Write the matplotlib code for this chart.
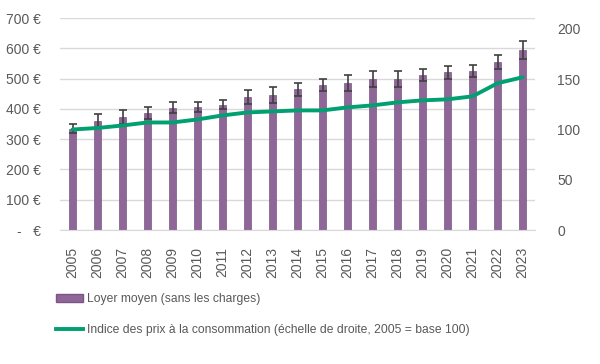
import matplotlib
matplotlib.use("Agg")
import matplotlib.pyplot as plt
from matplotlib.lines import Line2D
from matplotlib.patches import Patch

years = [str(y) for y in range(2005, 2024)]
loyer = [335, 360, 374, 386, 403, 406, 413, 439, 446, 465, 479, 485, 498, 498, 511, 521, 525, 554, 594]
loyer_err = [16, 22, 23, 20, 18, 16, 15, 23, 26, 22, 19, 26, 26, 26, 20, 22, 19, 23, 30]
ipc = [100, 101.5, 104, 107, 107, 110, 114, 117, 118, 119, 119, 122, 124, 127, 129, 130, 133, 146, 152]
left_ticks = [0, 100, 200, 300, 400, 500, 600, 700]
left_labels = ["-   €", "100 €", "200 €", "300 €", "400 €", "500 €", "600 €", "700 €"]
right_ticks = [0, 50, 100, 150, 200]

plt.rcParams['font.family'] = ['Liberation Sans', 'DejaVu Sans']
gray = "#595959"
purple = "#8E6798"
green = "#00A070"

fig = plt.figure(figsize=(6.0, 3.64), dpi=100)
ax = fig.add_axes([60/600, 1-230/364, 475/600, 212/364])
x = list(range(len(years)))
ax.bar(x, loyer, width=0.28, color=purple, edgecolor="#7A5585", linewidth=0.5, zorder=2,
       yerr=loyer_err, error_kw=dict(ecolor="#404040", elinewidth=1.2, capsize=3, capthick=1.2))
ax.set_xlim(-0.5, len(years)-0.5)
ax.set_ylim(0, 700)
ax.set_yticks(left_ticks)
ax.set_yticklabels(left_labels)
ax.yaxis.grid(True, color="#D9D9D9", linewidth=1, zorder=0)
ax.set_axisbelow(True)
ax.set_xticks(x)
ax.set_xticklabels(years, rotation=90)
for s in ["top", "right", "left"]:
    ax.spines[s].set_visible(False)
ax.spines["bottom"].set_color("#D9D9D9")
ax.tick_params(axis="y", length=0, labelcolor=gray, labelsize=10, pad=14)
ax.tick_params(axis="x", length=0, labelcolor=gray, labelsize=10, pad=12)

ax2 = ax.twinx()
ax2.plot(x, ipc, color=green, linewidth=2.8, zorder=3, solid_capstyle="round")
ax2.set_ylim(0, 200*212/201)
ax2.set_yticks(right_ticks)
for s in ["top", "right", "left", "bottom"]:
    ax2.spines[s].set_visible(False)
ax2.tick_params(axis="y", length=0, labelcolor=gray, labelsize=10, pad=16)

handles = [Patch(facecolor=purple, edgecolor="#7A5585", label="Loyer moyen (sans les charges)"),
           Line2D([0], [0], color=green, linewidth=2.8, label="Indice des prix à la consommation (échelle de droite, 2005 = base 100)")]
leg = fig.legend(handles=handles, loc="upper left", bbox_to_anchor=(56/600, 1-293/364),
                 frameon=False, fontsize=8.7, handlelength=2.2, handletextpad=0.35,
                 labelspacing=1.55, labelcolor=gray, borderaxespad=0, borderpad=0)

fig.savefig("out.png", dpi=100)
